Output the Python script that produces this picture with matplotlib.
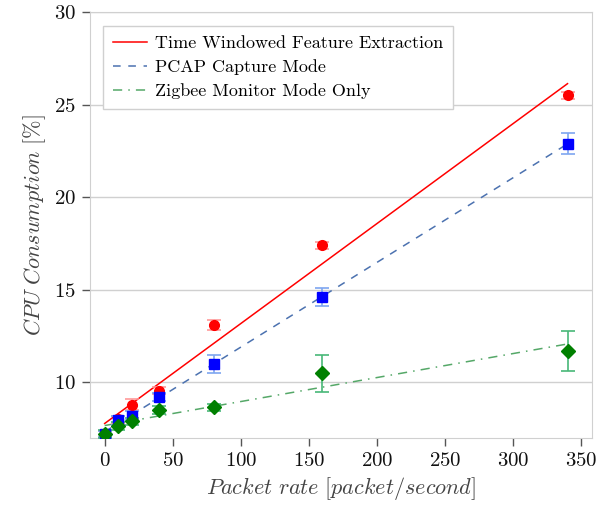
import numpy as np
import matplotlib
matplotlib.use("Agg")
import matplotlib.pyplot as plt

plt.rcParams['font.family'] = 'serif'
plt.rcParams['font.serif'] = ['cmr10']
plt.rcParams['mathtext.fontset'] = 'cm'
plt.rcParams['axes.formatter.use_mathtext'] = True

rate = [0, 10, 20, 40, 80, 160, 340]

# CPU usage per mode
cpu_twfe = [7.2, 8.0, 8.8, 9.55, 13.1, 17.4, 25.5]
err_twfe = [0.15, 0.2, 0.3, 0.2, 0.25, 0.2, 0.2]
cpu_pcap = [7.2, 7.95, 8.2, 9.2, 11.0, 14.6, 22.9]
err_pcap = [0.15, 0.25, 0.25, 0.2, 0.5, 0.5, 0.55]
cpu_zig = [7.2, 7.65, 7.9, 8.5, 8.65, 10.5, 11.7]
err_zig = [0.2, 0.2, 0.2, 0.2, 0.2, 1.0, 1.1]

labels = ["Time Windowed Feature Extraction", "PCAP Capture Mode",
          "Zigbee Monitor Mode Only"]

fig = plt.figure(figsize=(5.98, 5.08), dpi=100)
ax = fig.add_axes([0.150, 0.138, 0.840, 0.838])

x = np.array(rate)
series = [
    (cpu_twfe, err_twfe, 'red', '-', 'red', 'o', '#ff9a9a', 7),
    (cpu_pcap, err_pcap, '#4c72b0', (0, (5, 5)), 'blue', 's', '#7ea6f0', 7),
    (cpu_zig, err_zig, '#55a868', (0, (6, 4, 1, 4)), 'green', 'D', '#48b878', 7.5),
]
for (y, e, lc, ls, mc, mk, ec, ms), lab in zip(series, labels):
    k, b = np.polyfit(x, y, 1)
    ax.plot(x, k * x + b, color=lc, linestyle=ls, lw=1.1, label=lab, zorder=2)
    ax.errorbar(x, y, yerr=e, fmt='none', ecolor=ec, elinewidth=1.2,
                capsize=5, capthick=1.2, zorder=3)
    ax.plot(x, y, linestyle='none', marker=mk, color=mc, ms=ms, zorder=4)

ax.set_xlim(-11, 358)
ax.set_ylim(7, 30)
ax.set_xticks(range(0, 351, 50))
ax.set_yticks([10, 15, 20, 25, 30])
ax.yaxis.grid(True, color='#d0d0d0', lw=1)
ax.set_axisbelow(True)
for s in ax.spines.values():
    s.set_color('#d0d0d0')
ax.tick_params(direction='out', length=6, width=1, color='#555555',
               labelsize=15, labelcolor='#111111', pad=4)

ax.set_xlabel(r'$Packet\ rate\ [packet/second]$', fontsize=16, color='#444444')
ax.set_ylabel(r'$CPU\ Consumption\ [\%]$', fontsize=16, color='#444444')

leg = ax.legend(loc='upper left', fontsize=13, fancybox=False,
                edgecolor='#d0d0d0', framealpha=1, handlelength=1.9,
                handletextpad=0.4, borderpad=0.55, labelspacing=0.45,
                borderaxespad=0.75)
leg.get_frame().set_linewidth(1)

fig.savefig('out.png', dpi=100)
